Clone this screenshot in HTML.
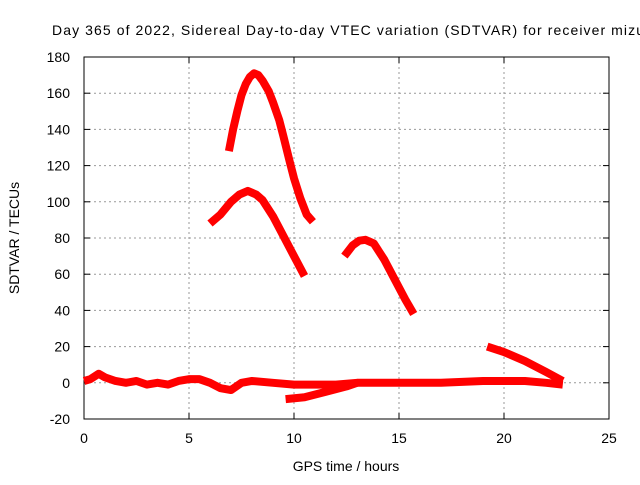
<!DOCTYPE html>
<html><head><meta charset="utf-8"><style>
body{margin:0;background:#fff;font-family:"Liberation Sans",sans-serif;overflow:hidden;}
svg text{font-family:"Liberation Sans",sans-serif;font-size:14px;fill:#000;}
</style></head><body>
<svg id="c" width="640" height="480"></svg>
<script>
const xTicks=[0,5,10,15,20,25];
const yTicks=[-20,0,20,40,60,80,100,120,140,160,180];
const seriesTopArc=[[6.9,128],[7.1,140],[7.3,150],[7.5,159],[7.7,165],[7.9,169],[8.1,171],[8.3,170],[8.5,167],[8.8,161],[9,155],[9.3,145],[9.5,136],[9.8,122],[10,113],[10.3,102],[10.6,93],[10.9,89]];
const seriesMidArc=[[6,88],[6.5,93],[7,100],[7.4,104],[7.8,106],[8.2,104],[8.5,101],[9,92],[9.5,81],[10,70],[10.5,59]];
const seriesRightArc=[[12.4,70],[12.8,76],[13.1,78.5],[13.4,79],[13.8,77],[14.3,68],[14.8,57],[15.3,46],[15.7,38]];
const seriesLate=[[19.2,20],[20,17],[21,12],[22,6],[22.8,1]];
const seriesBase=[[0,1],[0.3,2],[0.7,5],[1,3],[1.5,1],[2,0],[2.5,1],[3,-1],[3.5,0],[4,-1],[4.5,1],[5,2],[5.5,2],[6,0],[6.5,-3],[7,-4],[7.5,0],[8,1],[9,0],[10,-1],[11,-1],[12,-1],[13,0],[15,0],[17,0],[19,1],[20,1],[21,1],[22,0],[22.8,-1]];
const seriesLow=[[9.6,-9],[10.5,-8],[11.5,-5],[12.5,-2],[13,0]];
const X0=84,X1=609,Y0=419,Y1=57;
const sx=v=>X0+(v-0)/25*(X1-X0);
const sy=v=>Y0-(v+20)/200*(Y0-Y1);
const svg=document.getElementById('c');
const NS='http://www.w3.org/2000/svg';
function mk(t,a){const e=document.createElementNS(NS,t);for(const k in a)e.setAttribute(k,a[k]);svg.appendChild(e);return e;}
xTicks.forEach(t=>{
 if(t>0&&t<25){const g=mk('line',{x1:sx(t),x2:sx(t),y1:Y0,y2:Y1,stroke:'#999','stroke-dasharray':'2,3'});
 
 }
 mk('line',{x1:sx(t),x2:sx(t),y1:Y0,y2:Y0-6,stroke:'#000'});
 mk('line',{x1:sx(t),x2:sx(t),y1:Y1,y2:Y1+6,stroke:'#000'});
 const l=mk('text',{x:sx(t),y:Y0+24,'text-anchor':'middle'});l.textContent=t;
 
 
});
yTicks.forEach(t=>{
 if(t>-20&&t<180){const g=mk('line',{x1:X0,x2:X1,y1:sy(t),y2:sy(t),stroke:'#999','stroke-dasharray':'2,3'});
 
 }
 mk('line',{x1:X0,x2:X0+6,y1:sy(t),y2:sy(t),stroke:'#000'});
 mk('line',{x1:X1,x2:X1-6,y1:sy(t),y2:sy(t),stroke:'#000'});
 const l=mk('text',{x:X0-14,y:sy(t)+5,'text-anchor':'end'});l.textContent=t;
 
 
});
const fr=mk('rect',{x:X0,y:Y1,width:X1-X0,height:Y0-Y1,fill:'none',stroke:'#000'});


[seriesTopArc,seriesMidArc,seriesRightArc,seriesLate,seriesBase,seriesLow].forEach((s,i)=>{
 const p=mk('polyline',{points:s.map(d=>sx(d[0])+','+sy(d[1])).join(' '),fill:'none',stroke:'#f00','stroke-width':8,'stroke-linejoin':'round'});
 
 
});
const t=mk('text',{x:52,y:35,textLength:592,lengthAdjust:'spacing'});t.textContent='Day 365 of 2022, Sidereal Day-to-day VTEC variation (SDTVAR) for receiver mizu';


const xl=mk('text',{x:346,y:471,'text-anchor':'middle'});xl.textContent='GPS time / hours';


const yl=mk('text',{x:0,y:0,'text-anchor':'middle',transform:'translate(19,238) rotate(-90)'});yl.textContent='SDTVAR / TECUs';


</script>
</body></html>
